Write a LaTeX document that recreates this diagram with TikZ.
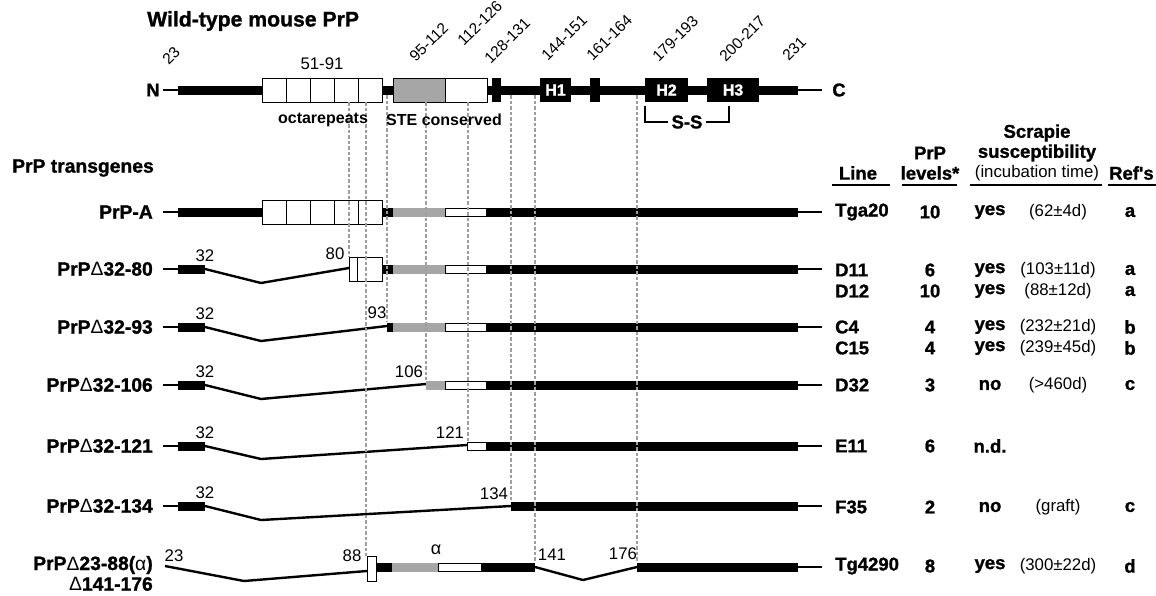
\documentclass[tikz,border=0pt]{standalone}
\usepackage{fontspec}
\setmainfont{Liberation Sans}
\newfontfamily\heavy{Liberation Sans Bold}[FakeBold=1.2]
\newcommand{\thindelta}{{\rmfamily\mdseries Δ}}
\newcommand{\thinalpha}{{\rmfamily\mdseries α}}
\tikzset{
  hv/.style={font=\heavy\fontsize{18.5}{21}\selectfont, inner sep=0pt},
  rowlabel/.style={font=\heavy\fontsize{19.3}{22}\selectfont, inner sep=0pt, anchor=east},
  bd/.style={font=\bfseries\fontsize{16}{19}\selectfont, inner sep=0pt},
  rg/.style={font=\fontsize{16.8}{19}\selectfont, inner sep=0pt},
  tilt/.style={inner sep=0pt, font=\fontsize{15.5}{18}\selectfont, rotate=45, anchor=south west},
  guide/.style={draw=black!38, dash pattern=on 3.5pt off 2pt, line width=1.3pt},
  tail/.style={line width=2.4pt},
  rep/.style={draw=black, fill=white, line width=0.9pt},
  helix/.style={fill=black, text=white, font=\heavy\fontsize{16}{18}\selectfont,
    inner sep=0pt, minimum height=24pt},
  rule/.style={line width=1.5pt}
}
\begin{document}
\begin{tikzpicture}[x=1pt,y=-1pt]
  \useasboundingbox (0,0) rectangle (1156,595);

  % wild-type PrP
  \node[hv, anchor=west, font=\heavy\fontsize{21.2}{24}\selectfont] (wt) at (147,21) {Wild-type mouse PrP};
  \node[hv] (nterm) at (153,90) {N};
  \node[hv] (cterm) at (839,90) {C};
  \draw[tail] (163,90) -- (178,90);
  \draw[tail] (798,90) -- (822,90);
  \fill (178,85.5) rectangle (798,94.5);
  \foreach \x in {262,286,...,358}
    \draw[rep] (\x,78) rectangle ++(24,24);
  \draw[rep, fill=black!35] (393,78) rectangle (445,102);
  \draw[rep] (445,78) rectangle (487,102);
  \fill (492,78) rectangle (501,102);
  \fill (590,78) rectangle (600,102);
  \node[helix, minimum width=31pt] (h1) at (555.5,90) {H1};
  \node[helix, minimum width=43pt] (h2) at (666.5,90) {H2};
  \node[helix, minimum width=52pt] (h3) at (733,90) {H3};

  \node[tilt] (p23) at (169,66) {23};
  \node[rg] (p51) at (322,64) {51-91};
  \node[tilt] (p95) at (416,63) {95-112};
  \node[tilt] (p112) at (464,47) {112-126};
  \node[tilt] (p128) at (491,65) {128-131};
  \node[tilt] (p144) at (548,62) {144-151};
  \node[tilt] (p161) at (593,62) {161-164};
  \node[tilt] (p179) at (659,63) {179-193};
  \node[tilt] (p200) at (726,63) {200-217};
  \node[tilt] (p231) at (789,62) {231};

  \node[hv] (ss) at (687,122) {S-S};
  \draw[tail] (645,106) |- ([xshift=-3pt]ss.west);
  \draw[tail] ([xshift=3pt]ss.east) -| (729,106);

  % transgenes
  \node[hv, anchor=west, font=\heavy\fontsize{19.3}{22}\selectfont] (tg) at (12,168) {PrP transgenes};
  \node[rowlabel] (rA) at (153,212) {PrP-A};
  \node[rowlabel] (r80) at (153,269) {PrP\thindelta32-80};
  \node[rowlabel] (r93) at (153,327) {PrP\thindelta32-93};
  \node[rowlabel] (r106) at (153,385) {PrP\thindelta32-106};
  \node[rowlabel] (r121) at (153,446) {PrP\thindelta32-121};
  \node[rowlabel] (r134) at (153,506) {PrP\thindelta32-134};
  \node[rowlabel] (r88) at (153,565) {PrP\thindelta23-88(\thinalpha)};
  \node[rowlabel] (r141) at (153,584) {\thindelta141-176};

  \foreach \y in {212,269,327,385,446,506} {
    \draw[tail] (163,\y) -- (178,\y);
    \draw[tail] (798,\y) -- (822,\y);
  }
  \draw[tail] (798,567) -- (822,567);

  % PrP-A
  \fill (178,207.5) rectangle (262,216.5);
  \foreach \x in {262,286,...,358}
    \draw[rep] (\x,200) rectangle ++(24,24);
  \fill (382,207.5) rectangle (393,216.5);
  \fill[black!35] (393,207.5) rectangle (445,216.5);
  \draw[rep, line width=0.7pt] (445,208) rectangle (486,216);
  \fill (486,207.5) rectangle (798,216.5);

  % delta 32-80
  \fill (178,264.5) rectangle (205,273.5);
  \draw[tail] (205,269) -- (261,283) -- (349,268);
  \draw[rep] (349,257) rectangle (382,281);
  \draw[line width=0.9pt] (357,257) -- (357,281);
  \fill (382,264.5) rectangle (393,273.5);
  \fill[black!35] (393,264.5) rectangle (445,273.5);
  \draw[rep, line width=0.7pt] (445,265) rectangle (486,273);
  \fill (486,264.5) rectangle (798,273.5);
  \node[rg] (a32) at (205,256) {32};
  \node[rg] (a80) at (335,254) {80};

  % delta 32-93
  \fill (178,322.5) rectangle (205,331.5);
  \draw[tail] (205,327) -- (261,341) -- (387,326);
  \fill (387,322.5) rectangle (393,331.5);
  \fill[black!35] (393,322.5) rectangle (445,331.5);
  \draw[rep, line width=0.7pt] (445,323) rectangle (486,331);
  \fill (486,322.5) rectangle (798,331.5);
  \node[rg] (b32) at (205,314) {32};
  \node[rg] (b93) at (377,313) {93};

  % delta 32-106
  \fill (178,380.5) rectangle (205,389.5);
  \draw[tail] (205,385) -- (261,399) -- (426,384);
  \fill[black!35] (426,380.5) rectangle (445,389.5);
  \draw[rep, line width=0.7pt] (445,381) rectangle (486,389);
  \fill (486,380.5) rectangle (798,389.5);
  \node[rg] (c32) at (205,372) {32};
  \node[rg] (c106) at (409,372) {106};

  % delta 32-121
  \fill (178,441.5) rectangle (205,450.5);
  \draw[tail] (205,446) -- (261,459) -- (467,445);
  \draw[rep, line width=0.7pt] (467,442) rectangle (486,450);
  \fill (486,441.5) rectangle (798,450.5);
  \node[rg] (d32) at (205,433) {32};
  \node[rg] (d121) at (450,433) {121};

  % delta 32-134
  \fill (178,501.5) rectangle (205,510.5);
  \draw[tail] (205,506) -- (261,520) -- (511,506);
  \fill (511,501.5) rectangle (798,510.5);
  \node[rg] (e32) at (205,493) {32};
  \node[rg] (e134) at (494,494) {134};

  % delta 23-88 (alpha) delta 141-176
  \draw[tail] (165,566) -- (244,581) -- (367,571);
  \draw[rep] (367,556) rectangle (376,581);
  \fill (376,562.5) rectangle (392,571.5);
  \fill[black!35] (392,562.5) rectangle (438,571.5);
  \draw[rep, line width=0.7pt] (438,563) rectangle (481,571);
  \fill (481,562.5) rectangle (535,571.5);
  \draw[tail] (535,567) -- (583,580) -- (637,567);
  \fill (637,562.5) rectangle (798,571.5);
  \node[rg] (f23) at (174,556) {23};
  \node[rg] (f88) at (352,556) {88};
  \node[rg, font=\fontsize{18}{20}\selectfont] (falpha) at (436,550) {\thinalpha};
  \node[rg] (f141) at (552,555) {141};
  \node[rg] (f176) at (623,554) {176};

  % guide lines
  \foreach \x/\ya/\yb in {349/102/257, 366/102/556, 387/95/322, 426/102/380,
      468/102/442, 511/95/501, 535/95/562, 637/95/562}
    \draw[guide] (\x,\ya) -- (\x,\yb);
  \node[bd] (octa) at (323,120) {octarepeats};
  \node[bd] (ste) at (444,120) {STE conserved};

  % table header
  \node[hv] (hline) at (858,173) {Line};
  \node[hv] (hprp) at (930,153) {PrP};
  \node[hv] (hlev) at (930,173) {levels*};
  \node[hv] (hscr) at (1037,133) {Scrapie};
  \node[hv] (hsus) at (1037,153) {susceptibility};
  \node[rg] (hinc) at (1037,173) {(incubation time)};
  \node[hv, anchor=west] (href) at (1109,173) {Ref's};
  \draw[rule] (832,185) -- (890,185);
  \draw[rule] (902,185) -- (957,185);
  \draw[rule] (970,185) -- (1102,185);
  \draw[rule] (1108,185) -- (1156,185);

  % table rows
  \foreach \y/\ln/\lv/\sc/\inc/\rf in {212/Tga20/10/yes/(62±4d)/a,
      270/D11/6/yes/(103±11d)/a, 291/D12/10/yes/(88±12d)/a,
      327/C4/4/yes/(232±21d)/b, 348/C15/4/yes/(239±45d)/b,
      385/D32/3/no/(>460d)/c, 446/E11/6/n.d./{}/{},
      507/F35/2/no/(graft)/c, 566/Tg4290/8/yes/(300±22d)/d} {
    \node[hv, anchor=west] (ln\y) at (835,\y) {\ln};
    \node[hv] (lv\y) at (930,\y) {\lv};
    \node[hv] (sc\y) at (990,\y) {\sc};
    \node[rg] (inc\y) at (1058,\y) {\inc};
    \node[hv] (rf\y) at (1130,\y) {\rf};
  }
\end{tikzpicture}
\end{document}
